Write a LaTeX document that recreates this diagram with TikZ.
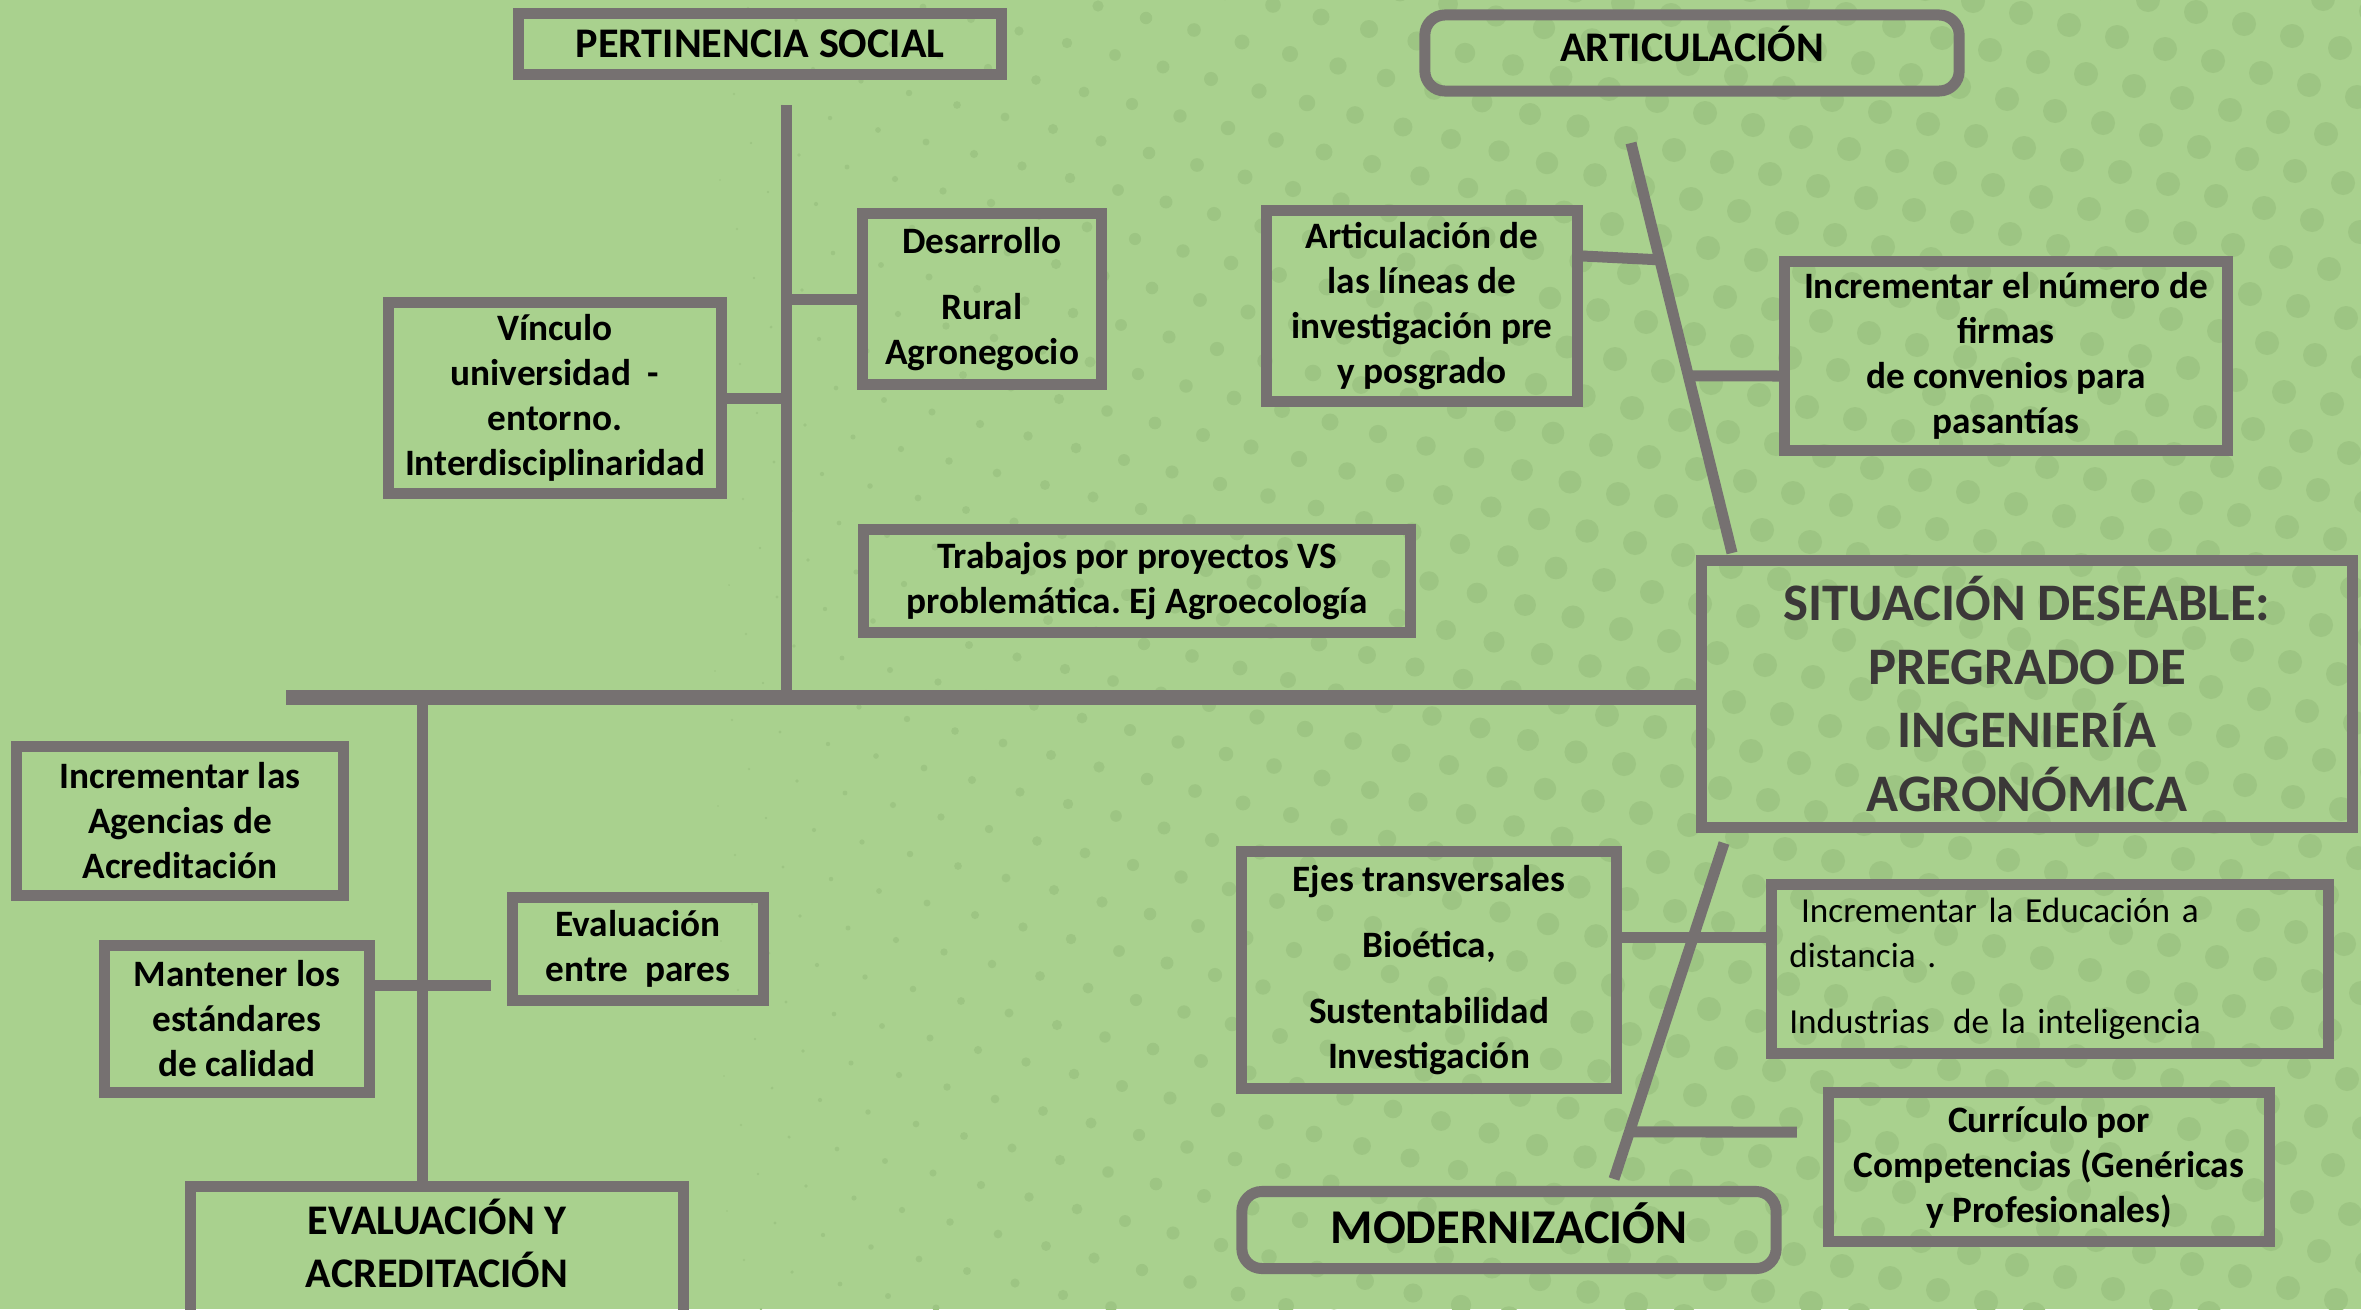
\documentclass[tikz,border=0pt]{standalone}
\usepackage{fontspec}
\setmainfont{Carlito}
\usetikzlibrary{calc}
\definecolor{BackClr}{RGB}{169,209,142}
\definecolor{DotClr}{RGB}{157,197,131}
\definecolor{LineClr}{RGB}{118,113,113}
\definecolor{TitleClr}{RGB}{59,56,56}
\frenchspacing

\tikzset{
  box/.style={draw=LineClr,line width=1.1mm,align=center,inner sep=0pt,
    font=\bfseries\fontsize{10.6}{12.8}\selectfont},
  headbox/.style={box,font=\bfseries\fontsize{12}{15}\selectfont},
  bone/.style={draw=LineClr,line width=1.1mm},
  spine/.style={draw=LineClr,line width=1.5mm}
}

\begin{document}
\begin{tikzpicture}[x=0.01cm,y=-0.01cm]
\fill[BackClr] (0,0) rectangle (2361,1309);
\useasboundingbox (0,0) rectangle (2361,1309);

\begin{scope}
\clip (0,0) rectangle (2361,1309);
\foreach \j in {-25,...,36}{
  \foreach \i in {0,...,75}{
    \pgfmathsetmacro\dx{48*\i-31*\j}
    \pgfmathsetmacro\dy{12*\i+37*\j}
    \pgfmathsetmacro\dr{min(12,(\dx-650)/80)}
    \ifdim\dr pt>0.8pt \ifdim\dx pt<2380pt
      \ifdim\dy pt>-15pt \ifdim\dy pt<1325pt
        \fill[DotClr] (\dx,\dy) circle[radius=\dr];
      \fi\fi
    \fi\fi
  }
}
\end{scope}

\coordinate (tail) at (286,697);
\coordinate (pstop) at (786,105);
\coordinate (evtop) at (422,697);
\coordinate (artop) at (1631,143);
\coordinate (artbot) at (1732,553);
\coordinate (modtop) at (1724,843);
\coordinate (modbot) at (1614,1179);

\node[headbox,minimum width=4.83cm,minimum height=0.61cm] (ps) at (760,44) {PERTINENCIA SOCIAL};
\node[headbox,rounded corners=2mm,minimum width=5.34cm,minimum height=0.76cm,text depth=5pt] (art) at (1692,53) {ARTICULACIÓN};
\node[box,minimum width=2.38cm,minimum height=1.71cm] (desa) at (982,299) {Desarrollo\\[6pt]Rural\\Agronegocio};
\node[box,minimum width=3.32cm,minimum height=1.90cm] (vinc) at (555,398) {Vínculo\\universidad\ \ -\\entorno.\\Interdisciplinaridad};
\node[box,minimum width=5.46cm,minimum height=1.03cm] (trab) at (1137,581) {Trabajos por proyectos VS\\problemática. Ej Agroecología};
\node[box,minimum width=6.50cm,minimum height=2.66cm,text=TitleClr,
  font=\bfseries\fontsize{15}{18.1}\selectfont] (sit) at (2027,694) {SITUACIÓN DESEABLE:\\PREGRADO DE\\INGENIERÍA\\AGRONÓMICA};
\node[box,minimum width=3.10cm,minimum height=1.91cm] (artlin) at (1422,306) {Articulación de\\las líneas de\\investigación pre\\y posgrado};
\node[box,minimum width=4.42cm,minimum height=1.89cm] (firm) at (2006,356) {Incrementar el número de\\firmas\\de convenios para\\pasantías};
\node[box,minimum width=3.75cm,minimum height=2.36cm] (ejes) at (1429,970) {Ejes transversales\\[6pt]Bioética,\\[6pt]Sustentabilidad\\Investigación};
\node[box,font=\fontsize{10}{12.8}\selectfont,align=left,text width=5.21cm,inner xsep=0.18cm,
  minimum height=1.68cm] (edu) at (2050,969) {\ Incrementar la Educación a\\distancia .\\[6pt]Industrias\ \ de la inteligencia};
\node[box,minimum width=4.41cm,minimum height=1.49cm] (curr) at (2049,1167) {Currículo por\\Competencias (Genéricas\\y Profesionales)};
\node[box,rounded corners=2mm,minimum width=5.34cm,minimum height=0.77cm,text depth=4pt,
  font=\bfseries\fontsize{13.8}{16}\selectfont] (mod) at (1509,1230) {MODERNIZACIÓN};
\node[box,minimum width=3.27cm,minimum height=1.48cm] (agen) at (180,821) {Incrementar las\\Agencias de\\Acreditación};
\node[box,minimum width=2.65cm,minimum height=1.47cm] (mant) at (237,1019) {Mantener los\\estándares\\de calidad};
\node[box,minimum width=2.50cm,minimum height=1.02cm] (pares) at (638,949) {Evaluación\\entre\ \ pares};
\node[headbox,minimum width=4.92cm,minimum height=1.30cm,text depth=5pt] (evac) at (437,1252) {EVALUACIÓN Y\\ACREDITACIÓN};

\draw[spine] (tail) -- (tail -| sit.west);
\draw[bone] (pstop) -- (pstop |- tail);
\draw[bone] (evtop) -- (evtop |- evac.north);
\draw[bone] (artop) -- (artbot);
\draw[bone] (modtop) -- (modbot);

\draw[bone] (desa.west) -- (desa.west -| pstop);
\draw[bone] (vinc.east) -- (vinc.east -| pstop);
\draw[bone] ($(trab.west)+(0,-19)$) -- ($(trab.west)+(0,-19)$ -| pstop);
\draw[bone] ($(artlin.east)+(0,-50)$) -- ($(artop)!0.285!(artbot)$);
\draw[bone] ($(artop)!0.568!(artbot)$) -- ($(firm.west)+(0,20)$);
\draw[bone] ($(ejes.east)+(0,-33)$) -- ($(edu.west)+(0,-32)$);
\draw[bone] ($(modtop)!0.86!(modbot)$) -- ($(curr.west)+(-26,-35)$);
\draw[bone] ($(agen.east)+(0,12)$) -- ($(agen.east)+(0,12)$ -| evtop);
\draw[bone] ($(mant.east)+(0,-34)$) -- ($(pares.west)+(-16,36)$);
\end{tikzpicture}
\end{document}
